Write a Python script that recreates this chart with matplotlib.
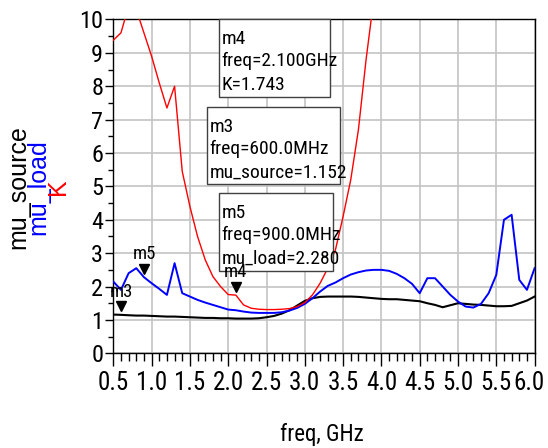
import numpy as np
import matplotlib
matplotlib.use("Agg")
import matplotlib.pyplot as plt
from matplotlib.patches import Rectangle
from matplotlib.ticker import MultipleLocator, FixedFormatter
from matplotlib.transforms import offset_copy

plt.rcParams['font.family'] = ['Roboto Condensed', 'Liberation Sans', 'DejaVu Sans']

# frequency sweep, GHz
freq = np.linspace(0.5, 6.0, 56)

K = [9.38, 9.6, 10.4, 10.3, 9.6, 8.9, 8.1, 7.35, 8.0, 5.45,
     4.4, 3.5, 2.8, 2.3, 2.0, 1.76, 1.743, 1.45, 1.35, 1.32,
     1.31, 1.31, 1.32, 1.34, 1.40, 1.52, 1.75, 2.1, 2.55, 3.1,
     4.1, 5.2, 6.7, 8.8, 10.6, 13.0, 16.0, 19.0, 22.0, 25.0,
     28.0, 30.0, 32.0, 33.0, 34.0, 34.0, 33.0, 32.0, 30.0, 28.0,
     26.0, 24.0, 22.0, 20.0, 19.0, 18.0]

mu_load = [2.15, 1.9, 2.4, 2.55, 2.28, 2.1, 1.93, 1.75, 2.7, 1.8,
           1.7, 1.6, 1.52, 1.45, 1.38, 1.31, 1.29, 1.25, 1.22, 1.21,
           1.21, 1.21, 1.23, 1.28, 1.36, 1.48, 1.65, 1.85, 2.02, 2.12,
           2.25, 2.36, 2.43, 2.48, 2.5, 2.5, 2.47, 2.38, 2.25, 2.08,
           1.8, 2.25, 2.25, 2.0, 1.75, 1.55, 1.4, 1.37, 1.48, 1.8,
           2.35, 4.0, 4.15, 2.2, 1.9, 2.55]

mu_source = [1.16, 1.152, 1.14, 1.13, 1.13, 1.12, 1.11, 1.1, 1.1, 1.09,
             1.08, 1.07, 1.06, 1.06, 1.05, 1.05, 1.04, 1.04, 1.04, 1.05,
             1.08, 1.12, 1.19, 1.29, 1.43, 1.57, 1.65, 1.69, 1.7, 1.7,
             1.7, 1.7, 1.69, 1.67, 1.65, 1.63, 1.62, 1.62, 1.6, 1.58,
             1.56, 1.5, 1.45, 1.38, 1.44, 1.5, 1.48, 1.46, 1.45, 1.43,
             1.41, 1.41, 1.42, 1.5, 1.58, 1.7]

xticks = [0.5, 1.0, 1.5, 2.0, 2.5, 3.0, 3.5, 4.0, 4.5, 5.0, 5.5, 6.0]
xtick_labels = ["0.5", "1.0", "1.5", "2.0", "2.5", "3.0", "3.5", "4.0", "4.5", "5.0", "5.5", "6.0"]

# markers: name, freq, value
markers = [("m3", 0.6, 1.152), ("m5", 0.9, 2.280), ("m4", 2.1, 1.743)]

# readout boxes
readouts = {
    "m4": ["m4", "freq=2.100GHz", "K=1.743"],
    "m3": ["m3", "freq=600.0MHz", "mu_source=1.152"],
    "m5": ["m5", "freq=900.0MHz", "mu_load=2.280"],
}
# box extents in pixels (left, top, right, bottom)
boxes = {
    "m4": (219, 19, 330, 97),
    "m3": (207, 107, 340, 184),
    "m5": (219, 193, 333, 271),
}

W, H = 548, 448
fig = plt.figure(figsize=(W / 100, H / 100), dpi=100)
L, R, T, B = 113.3, 534.6, 19.5, 353.3
ax = fig.add_axes([L / W, 1 - B / H, (R - L) / W, (B - T) / H])

ax.plot(freq, mu_source, color='black', lw=1.5, zorder=3)
ax.plot(freq, mu_load, color='#0000ff', lw=1.4, zorder=3)
ax.plot(freq, K, color='#ff0000', lw=1.0, zorder=3)

ax.set_xlim(0.5, 6.0)
ax.set_ylim(0, 10)
ax.set_xticks(xticks)
# last label is drawn by hand, pulled a bit inside the image
ax.xaxis.set_major_formatter(FixedFormatter(xtick_labels[:-1] + [""]))
ax.xaxis.set_minor_locator(MultipleLocator(0.1))
ax.yaxis.set_major_locator(MultipleLocator(1))
ax.yaxis.set_minor_locator(MultipleLocator(0.5))
ax.grid(True, which='major', color='#c4c4c4', lw=1.2)
ax.set_axisbelow(True)
for s in ax.spines.values():
    s.set_linewidth(1.0)

xpad = 3.5
ax.tick_params(axis='x', which='major', length=9.4, width=1, pad=xpad, labelsize=18)
ax.tick_params(axis='x', which='minor', length=5.8, width=1)
ax.tick_params(axis='y', which='major', length=5.8, width=1, pad=1.5, labelsize=17.5)
ax.tick_params(axis='y', which='minor', length=3.6, width=1)

lx = offset_copy(ax.get_xaxis_transform(), fig=fig, x=-5.5, y=-(9.4 + xpad) * 100 / 72, units='dots')
ax.text(xticks[-1], 0, xtick_labels[-1], transform=lx, ha='center', va='top', fontsize=18)

fig.text(322 / W, 1 - 441 / H, "freq, GHz", ha='center', va='baseline', fontsize=16.5)

# stacked y labels
for txt, col, xb in [("mu_source", 'black', 25), ("mu_load", '#0000ff', 45), ("K", '#ff0000', 65)]:
    fig.text(xb / W, 1 - 187 / H, txt, color=col, rotation=90, rotation_mode='anchor',
             ha='center', va='baseline', fontsize=18, family='Liberation Sans')

# marker triangles and labels
tri = offset_copy(ax.transData, fig=fig, x=0, y=8.5, units='dots')
for name, f, v in markers:
    ax.plot([f], [v], marker='v', ms=7.5, color='black', transform=tri, zorder=6, clip_on=False)
    ax.annotate(name, xy=(f, v), xytext=(0, 13), textcoords='offset points',
                ha='center', va='baseline', fontsize=13.5, zorder=7)

# readout boxes
for name, (x0, y0, x1, y1) in boxes.items():
    ax.add_patch(Rectangle((x0 / W, 1 - y1 / H), (x1 - x0) / W, (y1 - y0) / H,
                           transform=fig.transFigure, facecolor='white',
                           edgecolor='#404040', lw=1.0, zorder=4, clip_on=False))
    for i, line in enumerate(readouts[name]):
        fig.text((x0 + 2.5) / W, 1 - (y0 + 24.5 + 23 * i) / H, line, ha='left',
                 va='baseline', fontsize=14, zorder=5)

fig.savefig("out.png", dpi=100)
